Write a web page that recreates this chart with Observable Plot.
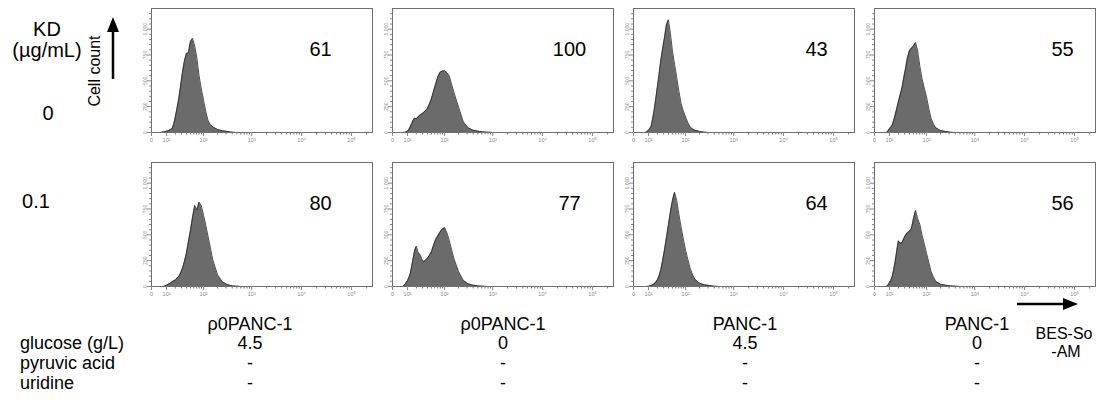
<!DOCTYPE html>
<html><head><meta charset="utf-8">
<script src="https://cdn.jsdelivr.net/npm/d3@7"></script>
<script src="https://cdn.jsdelivr.net/npm/@observablehq/plot@0.6"></script>
<style>
body{margin:0;background:#fff;font-family:"Liberation Sans",Arial,Helvetica,sans-serif;}
#wrap{position:relative;width:1104px;height:409px;overflow:hidden;background:#fff;}
#wrap > svg{position:absolute;left:0;top:0;}
.c{position:absolute;transform:translate(-50%,-50%);white-space:nowrap;line-height:1;color:#000;}
.l{position:absolute;transform:translateY(-50%);white-space:nowrap;line-height:1;color:#000;}
</style></head>
<body><div id="wrap"></div>
<script>
// ---- data ----
const kdDoses = ["0", "0.1"];                       // KD (µg/mL), rows
const cellLines = ["ρ0PANC-1", "ρ0PANC-1", "PANC-1", "PANC-1"];
const glucose = ["4.5", "0", "4.5", "0"];
const pyruvicAcid = ["-", "-", "-", "-"];
const uridine = ["-", "-", "-", "-"];
const percentKD0 = [61, 100, 43, 55];
const percentKD01 = [80, 77, 64, 56];

// histogram bin centres (log10 of BES-So-AM fluorescence)
const binsLog10 = [0.8, 0.9, 1.0, 1.05, 1.1, 1.15, 1.2, 1.25, 1.3, 1.35, 1.4, 1.45, 1.5, 1.55, 1.6, 1.65, 1.7, 1.75, 1.8, 1.85, 1.9, 1.95, 2.0, 2.05, 2.1, 2.15, 2.2, 2.3, 2.4, 2.5, 2.6, 2.7, 2.8, 2.9, 3.0];
// cell counts per bin
const kd0_rho_g45 = [5, 6, 13, 17, 22, 30, 38, 80, 150, 235, 326, 450, 582, 690, 765, 770, 880, 910, 838, 720, 550, 420, 310, 200, 112, 75, 54, 29, 16, 10, 3, 0, 0, 0, 0];
const kd0_rho_g0 = [0, 3, 13, 30, 54, 85, 118, 140, 132, 150, 166, 180, 192, 210, 230, 275, 326, 400, 470, 540, 582, 595, 598, 580, 550, 470, 390, 246, 102, 45, 22, 13, 6, 3, 0];
const kd0_panc_g45 = [0, 2, 22, 38, 61, 130, 214, 320, 438, 560, 694, 810, 918, 1040, 1090, 960, 790, 660, 534, 400, 278, 210, 150, 95, 54, 35, 22, 10, 3, 0, 0, 0, 0, 0, 0];
const kd0_panc_g0 = [0, 3, 38, 50, 70, 115, 166, 230, 294, 360, 422, 520, 614, 720, 790, 815, 838, 870, 790, 640, 518, 430, 342, 230, 134, 80, 45, 19, 10, 3, 0, 0, 0, 0, 0];
const kd01_rho_g45 = [0, 2, 13, 20, 26, 35, 45, 55, 64, 80, 96, 130, 176, 240, 320, 430, 544, 670, 784, 740, 816, 780, 688, 590, 480, 370, 256, 112, 45, 19, 6, 3, 0, 0, 0];
const kd01_rho_g0 = [3, 22, 58, 85, 122, 190, 272, 350, 390, 330, 314, 270, 240, 255, 272, 300, 336, 400, 454, 490, 528, 555, 570, 520, 448, 360, 272, 144, 58, 26, 13, 6, 3, 0, 0];
const kd01_panc_g45 = [0, 0, 2, 5, 10, 16, 26, 40, 64, 100, 160, 250, 352, 470, 592, 720, 832, 912, 832, 700, 576, 460, 352, 260, 176, 115, 70, 32, 16, 10, 3, 0, 0, 0, 0];
const kd01_panc_g0 = [0, 3, 38, 60, 96, 160, 240, 340, 442, 420, 422, 460, 496, 520, 534, 560, 656, 736, 656, 600, 496, 410, 320, 230, 144, 90, 48, 22, 13, 6, 3, 0, 0, 0, 0];

const xTickValues = [0, 10, 100, 1000, 10000, 100000];
const xTickLabels = ["0", "10¹", "10²", "10³", "10⁴", "10⁵"];
const xMinorTicks = [20, 30, 40, 50, 60, 70, 80, 90, 200, 300, 400, 500, 600, 700, 800, 900, 2000, 3000, 4000, 5000, 6000, 7000, 8000, 9000, 20000, 30000, 40000, 50000, 60000, 70000, 80000, 90000, 200000];
const yTickValues = [0, 250, 500, 750, 1000];
const yMinorTicks = [50, 100, 150, 200, 300, 350, 400, 450, 550, 600, 650, 700, 800, 850, 900, 950, 1050, 1100, 1150];

// ---- tables for Plot ----
const countSeries = [[kd0_rho_g45, kd0_rho_g0, kd0_panc_g45, kd0_panc_g0], [kd01_rho_g45, kd01_rho_g0, kd01_panc_g45, kd01_panc_g0]];
const percentSeries = [percentKD0, percentKD01];
const hist = [];
kdDoses.forEach((kd, r) => cellLines.forEach((_, c) => binsLog10.forEach((L, i) => hist.push({kd, col: c, x: Math.pow(10, L), count: countSeries[r][c][i]}))));
const pct = [];
kdDoses.forEach((kd, r) => cellLines.forEach((_, c) => pct.push({kd, col: c, pct: percentSeries[r][c]})));

const numberDx = [169, 177, 183, 188];
const font = "Liberation Sans, Arial, Helvetica, sans-serif";

const chart = Plot.plot({
  width: 1104, height: 409,
  marginLeft: 149, marginRight: 7, marginTop: 7, marginBottom: 122,
  style: {fontFamily: font, background: "white", overflow: "visible"},
  x: {type: "symlog", constant: 10, domain: [0, 262144], axis: null},
  y: {domain: [0, 1200], axis: null},
  fx: {domain: [0, 1, 2, 3], paddingInner: 0.0826, paddingOuter: 0, axis: null},
  fy: {domain: kdDoses, paddingInner: 0.1935, paddingOuter: 0, axis: null},
  marks: [
    Plot.areaY(hist, {x: "x", y: "count", fx: "col", fy: "kd", fill: "#6b6b6b"}),
    Plot.lineY(hist, {x: "x", y: "count", fx: "col", fy: "kd", stroke: "#262626", strokeWidth: 0.8}),
    Plot.frame({stroke: "#6e6e6e", strokeWidth: 1}),
    Plot.axisX({ticks: xMinorTicks, tickSize: 2.5, tickFormat: () => "", label: null, color: "#777", facetAnchor: null}),
    Plot.axisX({ticks: xTickValues, tickSize: 4, tickPadding: 2, tickFormat: d => xTickLabels[xTickValues.indexOf(d)], label: null, fontSize: 5.5, color: "#888", facetAnchor: null}),
    Plot.axisY({ticks: yMinorTicks, tickSize: 2, tickFormat: () => "", label: null, color: "#888", facetAnchor: null}),
    Plot.axisY({ticks: yTickValues, tickSize: 4, tickPadding: 1, tickRotate: -90, tickFormat: d3.format(","), label: null, fontSize: 5, color: "#888", facetAnchor: null}),
    ...[0, 1, 2, 3].map(c => Plot.text(pct.filter(d => d.col === c), {
      fx: "col", fy: "kd", text: d => String(d.pct), frameAnchor: "top-left",
      dx: numberDx[c], dy: 41, fontSize: 20, textAnchor: "middle", lineAnchor: "middle", fill: "#000"
    }))
  ]
});

const wrap = document.getElementById("wrap");
wrap.appendChild(chart);

function add(cls, text, x, y, size, extra) {
  const d = document.createElement("div");
  d.className = cls;
  d.textContent = text;
  d.style.left = x + "px";
  d.style.top = y + "px";
  d.style.fontSize = size + "px";
  if (extra) d.style.cssText += extra;
  wrap.appendChild(d);
}
// left annotations
add("c", "KD", 47, 29, 20);
add("c", "(µg/mL)", 47, 50, 20);
add("c", kdDoses[0], 48, 113, 20);
add("c", kdDoses[1], 36, 201, 20);
add("c", "Cell count", 95, 71, 16, "transform:translate(-50%,-50%) rotate(-90deg);");
// bottom condition table
const colCenters = [250, 503, 745, 977];
const rowY = [324, 343, 363, 383];
const rowLabels = ["", "glucose (g/L)", "pyruvic acid", "uridine"];
const rowValues = [cellLines, glucose, pyruvicAcid, uridine];
rowLabels.forEach((lab, r) => { if (lab) add("l", lab, 20, rowY[r], 18); });
rowValues.forEach((vals, r) => vals.forEach((v, c) => add("c", v, colCenters[c], rowY[r], 18)));
add("c", "BES-So", 1064, 334, 16);
add("c", "-AM", 1066, 352, 16);

// arrows
const ns = "http://www.w3.org/2000/svg";
const deco = document.createElementNS(ns, "svg");
deco.setAttribute("width", 1104); deco.setAttribute("height", 409);
deco.style.cssText = "position:absolute;left:0;top:0;pointer-events:none;";
deco.innerHTML =
  '<line x1="113" y1="79" x2="113" y2="30" stroke="#000" stroke-width="2.5"/>' +
  '<polygon points="113,17 107,32 119,32" fill="#000"/>' +
  '<line x1="1017" y1="304" x2="1064" y2="304" stroke="#000" stroke-width="2.5"/>' +
  '<polygon points="1078,304 1063,298 1063,310" fill="#000"/>';
wrap.appendChild(deco);
</script>
</body></html>
